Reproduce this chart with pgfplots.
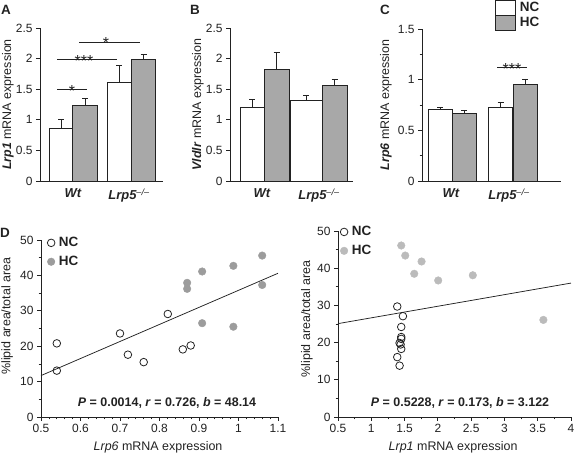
\documentclass[border=0pt]{standalone}
\usepackage{pgfplots}
\pgfplotsset{compat=1.18}
\usepackage{fontspec}
\setmainfont{Liberation Sans}
\definecolor{barg}{HTML}{A8A8A8}
\definecolor{dk}{HTML}{222222}
\definecolor{scg}{HTML}{9C9C9C}
\definecolor{scgb}{HTML}{BBBBBB}
\newcommand\fs[1]{\fontsize{#1}{#1}\selectfont}
\tikzset{sigstar/.style={anchor=base, yshift=-6.5bp, font=\fs{16}, text=dk}}
\pgfplotsset{
  common/.style={scale only axis, axis x line*=bottom, axis y line*=left, ymin=0,
    tick align=outside, major tick length=4bp, minor tick length=2.5bp,
    axis line style={dk, line width=0.75pt},
    every tick/.append style={dk, line width=0.75pt},
    tick label style={font=\fs{12}, text=dk},
    /pgf/number format/assume math mode=true,
    clip=false},
  baraxis/.style={common, xmin=0, xtick style={draw=none},
    xticklabel style={font=\fs{13}\bfseries\itshape},
    every axis y label/.style={at={(axis description cs:-0.26,0.5)}, rotate=90, anchor=center, font=\fs{12.5}, text=dk}},
  bw/.style={ybar, bar shift=0pt, fill=white, draw=dk, line width=0.75pt,
    error bars/y dir=plus, error bars/y explicit,
    error bars/error bar style={line width=0.75pt, dk},
    error bars/error mark options={line width=0.75pt, mark size=3bp, dk, rotate=90}},
  bg/.style={bw, fill=barg},
  sig/.style={dk, line width=0.75pt},
  scataxis/.style={common, ymax=50, ytick={0,10,20,30,40,50}, minor y tick num=1,
    legend style={draw=none, fill=none, inner sep=0pt, row sep=4bp, column sep=2bp,
      font=\fs{13.5}\bfseries, text=dk, cells={anchor=west}, nodes={inner sep=2bp}},
    legend image code/.code={\draw[##1] plot coordinates {(0bp,0bp)};}},
  nc/.style={only marks, mark=o, mark size=3.8bp, dk, mark options={line width=0.8pt}},
}
\begin{document}
\begin{tikzpicture}[x=1bp,y=1bp]
\useasboundingbox (0,0) rectangle (576,454);
\node[font=\fs{13.5}\bfseries, text=dk] at (6,444) {A};
\node[font=\fs{13.5}\bfseries, text=dk] at (195,444) {B};
\node[font=\fs{13.5}\bfseries, text=dk] at (385,444) {C};
\node[font=\fs{13.5}\bfseries, text=dk] at (5,221) {D};

% Panel A
\begin{axis}[baraxis, at={(40bp,273bp)}, anchor=south west, width=123bp, height=153bp,
  xmax=123, ymax=2.5, ytick={0,0.5,1,1.5,2,2.5}, xtick={33,89},
  xticklabels={Wt,{Lrp5\textsuperscript{\mdseries –/–}}},
  ylabel={\textbf{\textit{Lrp1}} mRNA expression}]
\addplot[bw, bar width=24] coordinates {(21,0.857) +- (0,0.143) (79,1.61) +- (0,0.28)};
\addplot[bg, bar width=24.5] coordinates {(45,1.228) +- (0,0.126) (103.5,1.98) +- (0,0.09)};
\addplot[sig] coordinates {(17,1.49) (47,1.49)};
\addplot[sig] coordinates {(17,1.98) (77,1.98)};
\addplot[sig] coordinates {(39,2.27) (100,2.27)};
\node[sigstar] at (axis cs:32,1.49) {*};
\node[sigstar] at (axis cs:44,1.98) {***};
\node[sigstar] at (axis cs:66,2.27) {*};
\end{axis}

% Panel B
\begin{axis}[baraxis, at={(230bp,273bp)}, anchor=south west, width=123bp, height=153bp,
  xmax=123, ymax=2.5, ytick={0,0.5,1,1.5,2,2.5}, xtick={32,89},
  xticklabels={Wt,{Lrp5\textsuperscript{\mdseries –/–}}},
  ylabel={\textbf{\textit{Vldlr}} mRNA expression}]
\addplot[bw, bar width=24] coordinates {(22,1.195) +- (0,0.131)};
\addplot[bw, bar width=32] coordinates {(76,1.316) +- (0,0.081)};
\addplot[bg, bar width=25] coordinates {(46.5,1.818) +- (0,0.289) (104.5,1.567) +- (0,0.087)};
\end{axis}

% Panel C
\begin{axis}[baraxis, at={(422bp,273bp)}, anchor=south west, width=139bp, height=152bp,
  xmax=139, ymax=1.5, ytick={0,0.5,1,1.5}, minor y tick num=1, xtick={29,87},
  xticklabels={Wt,{Lrp5\textsuperscript{\mdseries –/–}}},
  ylabel={\textbf{\textit{Lrp6}} mRNA expression},
  legend style={at={(axis cs:73,1.79)}, anchor=north west, draw=none, fill=none,
    inner sep=0pt, row sep=-0.75bp, column sep=3bp, font=\fs{13.5}\bfseries, text=dk,
    cells={anchor=west}, nodes={inner sep=1bp}}]
\addplot[bw, bar width=24, legend image code/.code={\draw[fill=white, draw=dk, line width=0.75pt] (0bp,-7.5bp) rectangle (20bp,7.5bp);}]
  coordinates {(18,0.711) +- (0,0.016) (78.5,0.73) +- (0,0.05)};
\addlegendentry{NC}
\addplot[bg, bar width=24, legend image code/.code={\draw[fill=barg, draw=dk, line width=0.75pt] (0bp,-7.5bp) rectangle (20bp,7.5bp);}]
  coordinates {(42,0.668) +- (0,0.032) (103,0.957) +- (0,0.05)};
\addlegendentry{HC}
\addplot[sig, forget plot] coordinates {(75,1.118) (105,1.118)};
\node[sigstar] at (axis cs:90,1.118) {***};
\end{axis}

% Panel D left
\begin{axis}[scataxis, at={(41bp,37bp)}, anchor=south west, width=237bp, height=177bp,
  xmin=0.5, xmax=1.1, xtick={0.5,0.6,0.7,0.8,0.9,1,1.1}, minor x tick num=4,
  xlabel={\textit{Lrp6} mRNA expression},
  ylabel={\%lipid area/total area},
  every axis x label/.style={at={(axis description cs:0.494,-0.17)}, anchor=center, font=\fs{12.5}, text=dk},
  every axis y label/.style={at={(axis description cs:-0.143,0.57)}, rotate=90, anchor=center, font=\fs{12.5}, text=dk},
  legend style={at={(axis description cs:0.026,1.027)}, anchor=north west}]
\addplot[nc] coordinates {(0.540,20.8) (0.540,13.1) (0.700,23.6) (0.720,17.6)
  (0.760,15.5) (0.821,29.1) (0.859,19.1) (0.879,20.2)};
\addlegendentry{NC}
\addplot[only marks, mark=*, mark size=3.8bp, scg] coordinates {(0.870,37.9) (0.870,36.2)
  (0.908,41.1) (0.908,26.5) (0.987,42.7) (0.987,25.5) (1.060,45.6) (1.060,37.3)};
\addlegendentry{HC}
\addplot[dk, line width=0.75pt, forget plot] coordinates {(0.5,11.7) (1.1,40.6)};
\node[font=\fs{12.5}\bfseries, text=dk] at (axis cs:0.819,3.95)
  {\textit{P} = 0.0014, \textit{r} = 0.726, \textit{b} = 48.14};
\end{axis}

% Panel D right
\begin{axis}[scataxis, at={(338bp,37bp)}, anchor=south west, width=233bp, height=186bp,
  xmin=0.5, xmax=4, xtick={0.5,1,1.5,2,2.5,3,3.5,4}, minor x tick num=1,
  xlabel={\textit{Lrp1} mRNA expression},
  ylabel={\%lipid area/total area},
  every axis x label/.style={at={(axis description cs:0.494,-0.162)}, anchor=center, font=\fs{12.5}, text=dk},
  every axis y label/.style={at={(axis description cs:-0.133,0.527)}, rotate=90, anchor=center, font=\fs{12.5}, text=dk},
  legend style={at={(axis description cs:0.009,1.036)}, anchor=north west}]
\addplot[nc] coordinates {(1.39,29.7) (1.475,27.1) (1.45,24.2) (1.45,21.5) (1.45,21.0)
  (1.425,19.9) (1.44,19.5) (1.45,18.3) (1.39,16.1) (1.425,13.8)};
\addlegendentry{NC}
\addplot[only marks, mark=*, mark size=3.8bp, scgb] coordinates {(1.45,46.1) (1.51,43.4)
  (1.755,41.8) (1.645,38.5) (2.005,36.7) (2.525,38.1) (3.585,26.1)};
\addlegendentry{HC}
\addplot[dk, line width=0.75pt, forget plot] coordinates {(0.5,25.1) (4,36.0)};
\node[font=\fs{12.5}\bfseries, text=dk] at (axis cs:2.333,3.76)
  {\textit{P} = 0.5228, \textit{r} = 0.173, \textit{b} = 3.122};
\end{axis}
\end{tikzpicture}
\end{document}
